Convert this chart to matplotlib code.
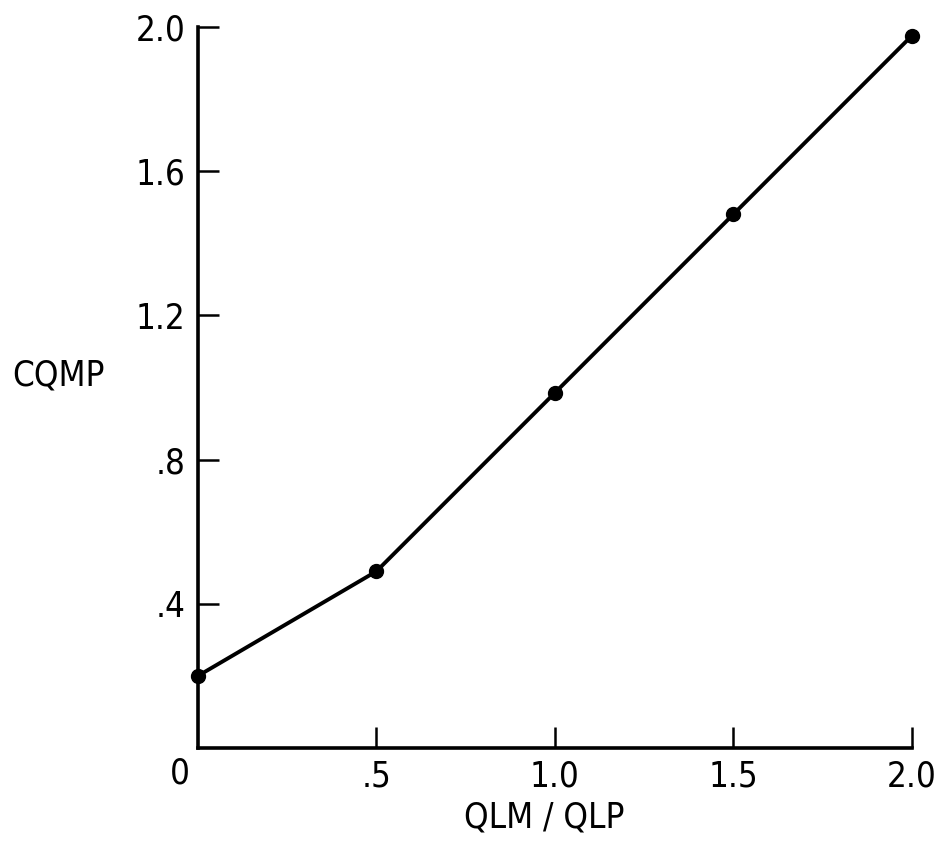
import matplotlib.pyplot as plt

ratio = [0.0, 0.5, 1.0, 1.5, 2.0]
cqmp = [0.20, 0.49, 0.985, 1.48, 1.975]

xticks = [0.5, 1.0, 1.5, 2.0]
xtick_labels = ['.5', '1.0', '1.5', '2.0']
yticks = [0.4, 0.8, 1.2, 1.6, 2.0]
ytick_labels = ['.4', '.8', '1.2', '1.6', '2.0']

plt.rcParams['font.family'] = ['DejaVu Sans']
plt.rcParams['font.stretch'] = 'condensed'

fig = plt.figure(figsize=(9.36, 8.41), dpi=100)
ax = fig.add_axes([0.2115, 0.1106, 0.7625, 0.8574])

ax.plot(ratio, cqmp, color='black', linewidth=2.8, marker='o', markersize=10,
        clip_on=False, zorder=3)

ax.set_xlim(0, 2.0)
ax.set_ylim(0, 2.0)
ax.spines['top'].set_visible(False)
ax.spines['right'].set_visible(False)
for side in ('left', 'bottom'):
    ax.spines[side].set_linewidth(2.6)

ax.set_xticks(xticks)
ax.set_xticklabels(xtick_labels)
ax.set_yticks(yticks)
ax.set_yticklabels(ytick_labels)
ax.tick_params(direction='in', length=15, width=1.8, labelsize=25, pad=8)
ax.tick_params(axis='y', pad=9)

# origin label sits under the corner, with no tick mark
ax.text(-0.05, -0.025, '0', fontsize=25, ha='center', va='top')

# axis titles placed by hand, horizontal on both axes
ax.text(0.485, -0.097, 'QLM / QLP', fontsize=25, ha='center', va='center',
        transform=ax.transAxes)
fig.text(0.013, 0.554, 'CQMP', fontsize=25, ha='left', va='center')

fig.savefig('out.png', dpi=100)
